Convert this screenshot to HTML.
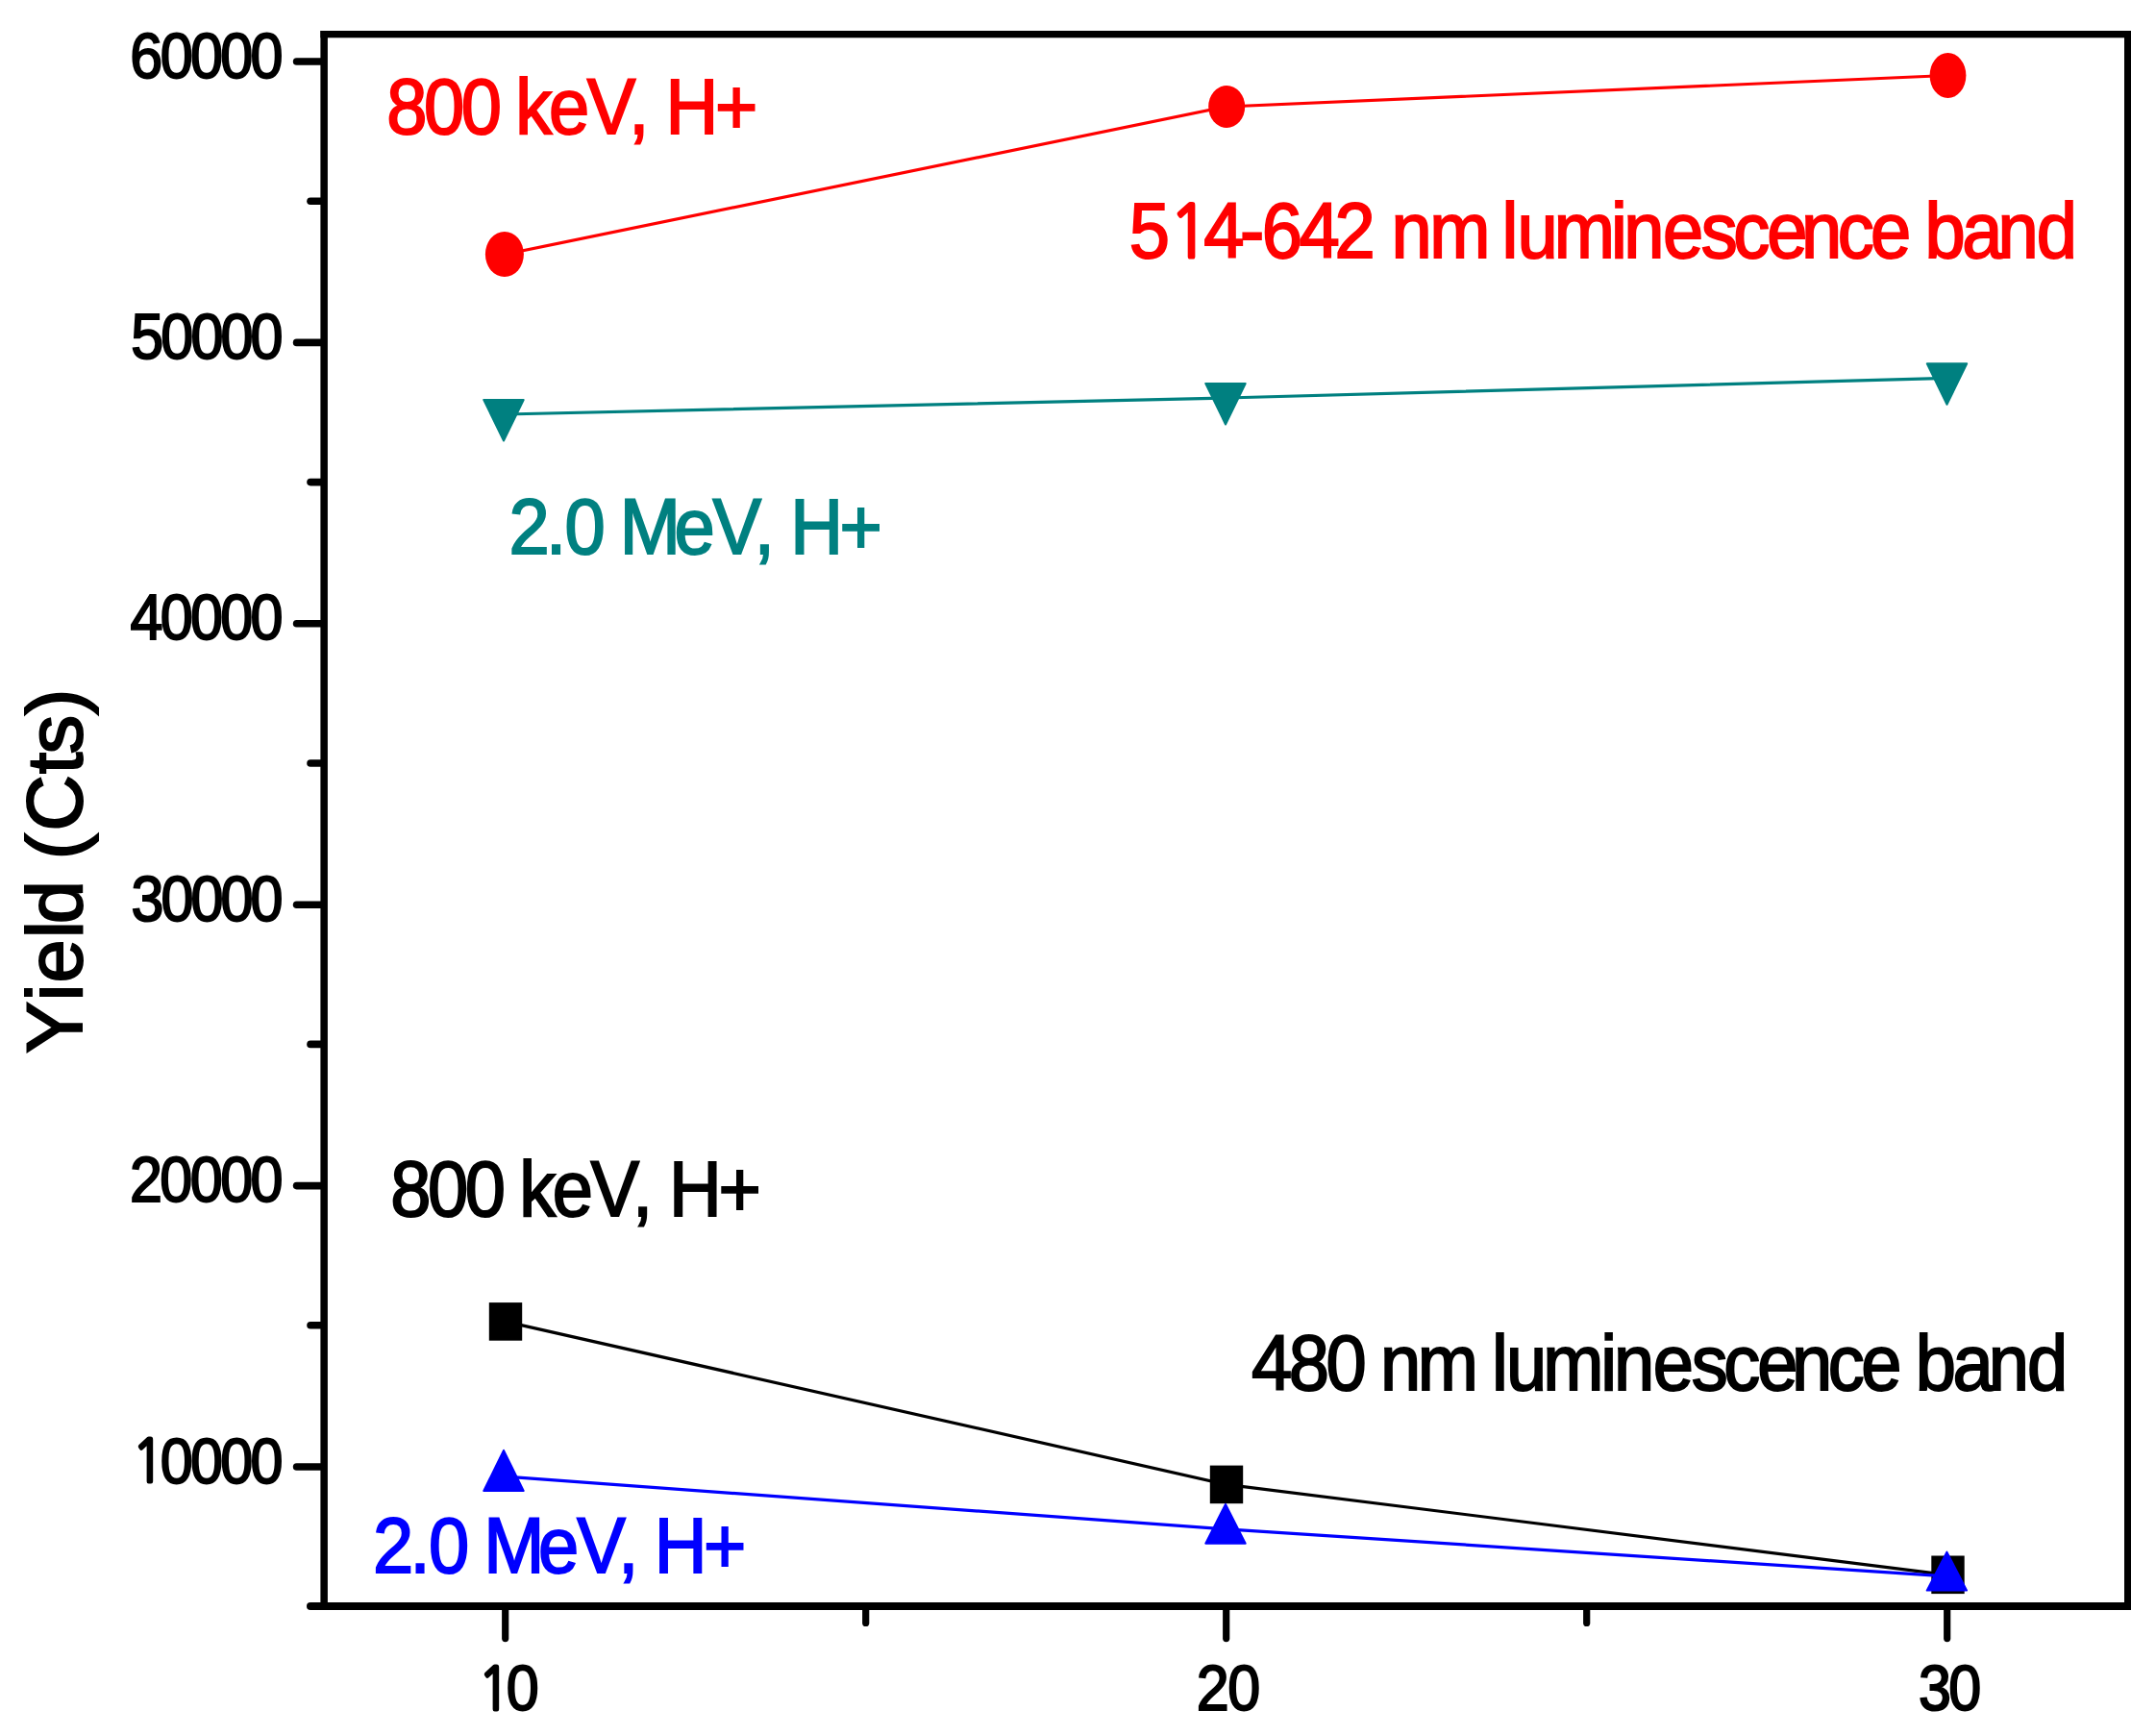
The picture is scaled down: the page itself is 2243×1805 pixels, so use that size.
<!DOCTYPE html>
<html><head><meta charset="utf-8"><title>Yield (Cts)</title>
<style>html,body{margin:0;padding:0;background:#fff}svg{display:block}text{font-family:"Liberation Sans",Arial,sans-serif;font-kerning:none;white-space:pre}.one{font-family:NanumGothic,"Liberation Sans",sans-serif}</style></head><body>
<svg width="2243" height="1805" viewBox="0 0 2243 1805">
<rect width="2243" height="1805" fill="#fff"/>
<rect x="333.40" y="32.00" width="7.50" height="1643.00" fill="#000"/>
<rect x="2210.00" y="32.00" width="7.00" height="1643.00" fill="#000"/>
<rect x="333.40" y="32.00" width="1883.60" height="7.30" fill="#000"/>
<rect x="333.40" y="1667.00" width="1883.60" height="8.00" fill="#000"/>
<line x1="323.00" y1="1671.00" x2="335.40" y2="1671.00" stroke="#000" stroke-width="8.0" stroke-linecap="round"/>
<line x1="308.60" y1="1526.00" x2="335.40" y2="1526.00" stroke="#000" stroke-width="7.6" stroke-linecap="round"/>
<line x1="323.00" y1="1378.80" x2="335.40" y2="1378.80" stroke="#000" stroke-width="7.6" stroke-linecap="round"/>
<line x1="308.60" y1="1233.60" x2="335.40" y2="1233.60" stroke="#000" stroke-width="7.6" stroke-linecap="round"/>
<line x1="323.00" y1="1086.40" x2="335.40" y2="1086.40" stroke="#000" stroke-width="7.6" stroke-linecap="round"/>
<line x1="308.60" y1="941.20" x2="335.40" y2="941.20" stroke="#000" stroke-width="7.6" stroke-linecap="round"/>
<line x1="323.00" y1="794.00" x2="335.40" y2="794.00" stroke="#000" stroke-width="7.6" stroke-linecap="round"/>
<line x1="308.60" y1="648.80" x2="335.40" y2="648.80" stroke="#000" stroke-width="7.6" stroke-linecap="round"/>
<line x1="323.00" y1="501.60" x2="335.40" y2="501.60" stroke="#000" stroke-width="7.6" stroke-linecap="round"/>
<line x1="308.60" y1="356.40" x2="335.40" y2="356.40" stroke="#000" stroke-width="7.6" stroke-linecap="round"/>
<line x1="323.00" y1="209.20" x2="335.40" y2="209.20" stroke="#000" stroke-width="7.6" stroke-linecap="round"/>
<line x1="308.60" y1="64.00" x2="335.40" y2="64.00" stroke="#000" stroke-width="7.6" stroke-linecap="round"/>
<line x1="525.70" y1="1673.00" x2="525.70" y2="1704.60" stroke="#000" stroke-width="7.2" stroke-linecap="round"/>
<line x1="900.70" y1="1673.00" x2="900.70" y2="1688.40" stroke="#000" stroke-width="7.2" stroke-linecap="round"/>
<line x1="1275.70" y1="1673.00" x2="1275.70" y2="1704.60" stroke="#000" stroke-width="7.2" stroke-linecap="round"/>
<line x1="1650.70" y1="1673.00" x2="1650.70" y2="1688.40" stroke="#000" stroke-width="7.2" stroke-linecap="round"/>
<line x1="2025.70" y1="1673.00" x2="2025.70" y2="1704.60" stroke="#000" stroke-width="7.2" stroke-linecap="round"/>
<polyline points="525.70,1374.90 1275.60,1544.40 2025.60,1638.30" fill="none" stroke="#000" stroke-width="3.2"/>
<rect x="508.80" y="1355.10" width="34.4" height="39.6" fill="#000"/>
<rect x="1258.80" y="1524.60" width="34.4" height="39.6" fill="#000"/>
<rect x="2009.30" y="1618.50" width="34.4" height="39.6" fill="#000"/>
<polyline points="525.70,264.50 1275.60,111.00 2025.60,78.50" fill="none" stroke="#ff0000" stroke-width="3.2"/>
<ellipse cx="524.90" cy="264.50" rx="20.0" ry="23.6" fill="#ff0000"/>
<ellipse cx="1276.20" cy="111.00" rx="19.0" ry="22.0" fill="#ff0000"/>
<ellipse cx="2026.50" cy="78.50" rx="18.9" ry="23.5" fill="#ff0000"/>
<polyline points="525.70,1536.20 1275.60,1590.90 2025.60,1639.80" fill="none" stroke="#0000ff" stroke-width="3.2"/>
<polygon points="524.00,1508.90 503.30,1551.00 544.70,1551.00" fill="#0000ff" stroke="#0000ff" stroke-width="2" stroke-linejoin="round"/>
<polygon points="1275.00,1564.90 1254.30,1605.70 1295.70,1605.70" fill="#0000ff" stroke="#0000ff" stroke-width="2" stroke-linejoin="round"/>
<polygon points="2025.40,1614.60 2004.70,1654.60 2046.10,1654.60" fill="#0000ff" stroke="#0000ff" stroke-width="2" stroke-linejoin="round"/>
<polyline points="525.70,431.00 1275.60,414.00 2025.60,393.30" fill="none" stroke="#008080" stroke-width="3.2"/>
<polygon points="503.30,416.00 544.70,416.00 524.00,458.50" fill="#008080" stroke="#008080" stroke-width="2" stroke-linejoin="round"/>
<polygon points="1254.30,399.00 1295.70,399.00 1275.00,441.50" fill="#008080" stroke="#008080" stroke-width="2" stroke-linejoin="round"/>
<polygon points="2004.80,378.30 2046.20,378.30 2025.50,420.80" fill="#008080" stroke="#008080" stroke-width="2" stroke-linejoin="round"/>
<text transform="translate(402.13,138.50) scale(0.9310,1)" font-size="81.50" fill="#ff0000" stroke="#ff0000" stroke-width="2.00" x="0.00 41.72 83.43 125.15 144.18 181.32 224.11 270.78 292.82 311.85 367.10" y="0">800 keV, H+</text>
<text transform="translate(1174.69,268.20) scale(0.9310,1)" font-size="81.50" fill="#ff0000" stroke="#ff0000" stroke-width="2.00" x="0.00 44.29 83.20 123.73 148.21 189.81 229.80 273.02 293.01 335.68 397.70 416.61 433.68 474.74 538.37 552.75 596.50 639.17 675.12 712.68 751.06 791.59 828.61 870.21 889.13 930.73 970.72 1013.93" y="0">5<tspan class="one" font-size="75.60" stroke-width="3.0" dy="-0.5">1</tspan><tspan dy="0.5">4</tspan>-642 nm luminescence band</text>
<text transform="translate(529.41,576.20) scale(0.9310,1)" font-size="81.50" fill="#008080" stroke="#008080" stroke-width="2.00" x="0.00 41.52 62.50 101.87 123.93 184.79 227.92 274.18 295.70 314.54 369.59" y="0">2.0 MeV, H+</text>
<text transform="translate(406.23,1264.50) scale(0.9310,1)" font-size="81.50" fill="#000" stroke="#000" stroke-width="2.00" x="0.00 41.65 83.30 124.95 143.92 181.00 223.72 270.33 292.30 311.27 366.45" y="0">800 keV, H+</text>
<text transform="translate(1301.89,1445.90) scale(0.9310,1)" font-size="81.50" fill="#000" stroke="#000" stroke-width="2.00" x="0.00 41.66 83.31 124.97 143.94 185.60 249.82 268.79 284.84 325.95 390.17 405.15 448.95 491.68 527.69 565.30 603.74 644.32 681.40 723.05 742.03 783.68 823.73 866.99" y="0">480 nm luminescence band</text>
<text transform="translate(387.91,1636.30) scale(0.9310,1)" font-size="81.50" fill="#0000ff" stroke="#0000ff" stroke-width="2.00" x="0.00 41.53 62.52 101.91 123.98 184.85 227.99 274.26 295.79 314.63 369.69" y="0">2.0 MeV, H+</text>
<text transform="translate(494.66,1779.20) scale(0.9100,1)" font-size="67.10" fill="#000" stroke="#000" stroke-width="2.00" x="2.97 35.23" y="0"><tspan class="one" font-size="61.26" stroke-width="3.0" dy="-0.5">1</tspan><tspan dy="0.5">0</tspan></text>
<text transform="translate(1244.84,1779.20) scale(0.9100,1)" font-size="67.10" fill="#000" stroke="#000" stroke-width="2.00" x="0.00 35.58" y="0">20</text>
<text transform="translate(1995.98,1779.20) scale(0.9100,1)" font-size="67.10" fill="#000" stroke="#000" stroke-width="2.00" x="0.00 34.32" y="0">30</text>
<text transform="translate(135.46,1542.60) scale(0.9100,1)" font-size="67.10" fill="#000" stroke="#000" stroke-width="2.00" x="1.87 34.38 68.77 103.15 137.54" y="0"><tspan class="one" font-size="61.26" stroke-width="3.0" dy="-0.5">1</tspan><tspan dy="0.5">0</tspan>000</text>
<text transform="translate(134.94,1250.20) scale(0.9100,1)" font-size="67.10" fill="#000" stroke="#000" stroke-width="2.00" x="0.00 34.53 69.05 103.58 138.11" y="0">20000</text>
<text transform="translate(136.38,957.80) scale(0.9100,1)" font-size="67.10" fill="#000" stroke="#000" stroke-width="2.00" x="0.00 34.13 68.26 102.39 136.52" y="0">30000</text>
<text transform="translate(135.41,665.40) scale(0.9100,1)" font-size="67.10" fill="#000" stroke="#000" stroke-width="2.00" x="0.00 34.40 68.80 103.19 137.59" y="0">40000</text>
<text transform="translate(136.27,373.00) scale(0.9100,1)" font-size="67.10" fill="#000" stroke="#000" stroke-width="2.00" x="0.00 34.16 68.32 102.49 136.65" y="0">50000</text>
<text transform="translate(135.31,80.60) scale(0.9100,1)" font-size="67.10" fill="#000" stroke="#000" stroke-width="2.00" x="0.00 34.42 68.85 103.27 137.70" y="0">60000</text>
<text transform="translate(85.2,1096.70) rotate(-90) scale(0.9920,1)" font-size="82.00" fill="#000" stroke="#000" stroke-width="2.00" x="0.71 55.63 74.78 121.32 136.64 181.97 203.98 233.83 293.78 314.78 355.71" y="0">Yield (Cts)</text>
</svg></body></html>
